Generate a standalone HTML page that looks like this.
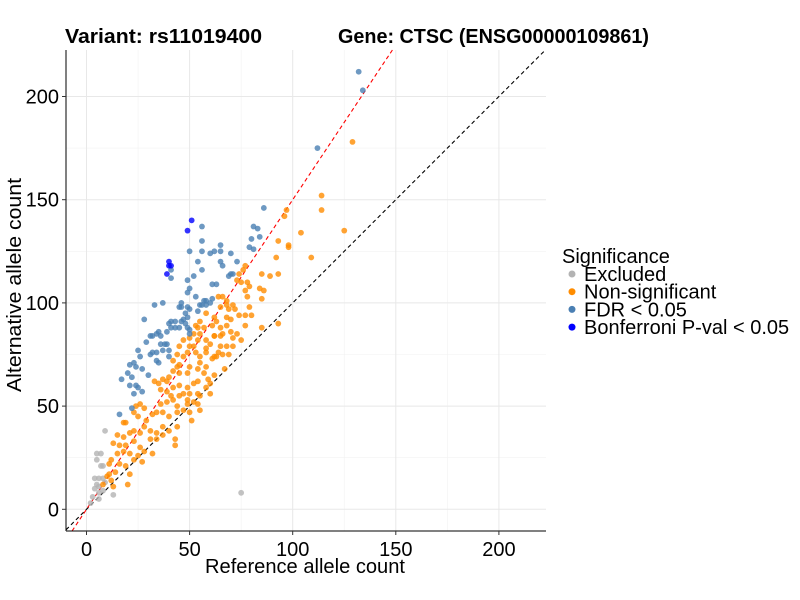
<!DOCTYPE html>
<html><head><meta charset="utf-8">
<style>
body{margin:0;background:#fff;}
svg{display:block;font-family:"Liberation Sans",Arial,sans-serif;}
</style></head>
<body>
<svg id="chart" width="800" height="600" viewBox="0 0 800 600">
<rect width="800" height="600" fill="#fff"/>
<g id="grid"></g>
<g id="lines"></g>
<g id="points"></g>
<g id="axes"></g>
<text x="65" y="43" font-size="20" font-weight="bold" textLength="197" lengthAdjust="spacingAndGlyphs">Variant: rs11019400</text>
<text x="338" y="43" font-size="20" font-weight="bold" textLength="311" lengthAdjust="spacingAndGlyphs">Gene: CTSC (ENSG00000109861)</text>
<text x="305" y="573" font-size="20" text-anchor="middle" textLength="200" lengthAdjust="spacingAndGlyphs">Reference allele count</text>
<text x="0" y="0" font-size="20" text-anchor="middle" textLength="214" lengthAdjust="spacingAndGlyphs" transform="translate(21,285) rotate(-90)">Alternative allele count</text>
<g id="legend">
<text x="562" y="263" font-size="20">Significance</text>
</g>
</svg>
<script>
const xTicks=[0,50,100,150,200];
const yTicks=[0,50,100,150,200];
const minorTicks=[25,75,125,175];
const groupNames=["Excluded","Non-significant","FDR < 0.05","Bonferroni P-val < 0.05"];
const groupColors=["#b3b3b3","#ff8c00","#4a7fb3","#0000ff"];
const excludedX=[9,5,7,5,8,7,4,6,8,5,6,9,8,6,6,13,75,3,4,2];
const excludedY=[38,27,27,24,21,21,15,15,15,12,11,13,9,8,5,7,8,6,10,3];
const nonsigX=[96,93,98,92,85,89,93,76,77,74,73,75,78,79,84,86,85,77,78,64,66,68,65,68,71,69,72,79,80,74,77,77,85,93,114,114,129,125,109,97,98,104,58,62,63,54,57,61,65,68,70,73,66,62,52,50,54,58,60,68,71,64,69,63,61,67,58,55,53,49,45,47,44,42,45,50,54,57,59,62,49,45,42,40,39,37,35,33,36,39,42,45,49,52,55,52,49,45,42,39,36,34,37,40,44,47,50,51,44,40,37,34,31,29,32,28,26,24,23,25,28,26,23,19,18,21,18,15,13,16,19,23,26,28,25,27,21,18,15,12,11,16,19,21,20,14,11,13,12,43,43,31,34,37,32,23,49,55,58,60,54,50,47,41,44,54,54,60,62,65,66,71,75,70,68,58,52,47,50,44,55,58,62,65,55,53,55,8,10];
const nonsigY=[142,130,127,122,114,113,114,116,118,114,111,110,110,108,107,106,102,106,103,103,103,101,98,99,99,97,97,98,94,94,94,89,88,90,152,145,178,135,122,145,128,134,95,93,91,88,88,89,88,89,86,85,85,84,85,83,82,82,80,79,79,76,75,74,73,68,69,74,76,76,79,74,75,72,70,69,68,66,63,65,66,66,67,64,62,63,61,62,58,57,59,60,59,61,55,52,53,55,53,52,51,47,47,45,47,48,47,43,40,38,40,37,38,43,46,49,51,50,47,45,40,37,38,42,42,37,35,36,32,31,31,33,30,28,26,23,27,28,27,24,22,22,21,17,12,18,17,11,14,34,31,34,34,36,27,24,51,48,59,56,56,56,56,55,50,51,62,61,74,79,75,83,82,92,93,76,79,82,79,69,71,78,84,84,85,89,91,12,16];
const fdrX=[86,81,83,80,84,79,81,56,56,65,50,56,60,62,65,70,54,65,66,73,56,41,41,52,49,70,71,69,61,63,50,49,53,46,45,46,49,37,33,57,58,60,61,56,55,58,54,48,50,49,47,48,49,50,50,28,41,43,40,46,45,43,41,39,35,34,31,36,36,38,39,40,37,40,32,29,25,26,31,32,34,34,35,21,23,24,27,20,22,17,30,21,24,25,27,23,22,16,112,132,134];
const fdrY=[146,137,136,131,132,127,126,137,130,128,125,125,124,125,125,124,120,120,118,120,116,116,112,113,111,114,114,113,109,109,107,105,103,100,98,98,98,100,99,101,101,100,102,99,99,99,96,95,97,93,92,90,88,87,85,92,91,91,90,91,88,88,88,86,86,85,84,84,80,80,80,77,77,74,84,81,77,74,75,76,76,72,71,70,71,69,68,66,64,63,65,60,60,59,57,56,49,46,175,212,203];
const bonfX=[51,49,40,40,41,39];
const bonfY=[140,135,120,118,118,114];
const redSlope=1.5;
const blackSlope=1;

const NS="http://www.w3.org/2000/svg";
const L=66,R=546,T=50,B=531;
const sx=v=>86.5+v*2.062;
const sy=v=>509.3-v*2.064;
const xMin=(L-86.5)/2.062,xMax=(R-86.5)/2.062;
function mk(tag,attrs,parent){const e=document.createElementNS(NS,tag);for(const k in attrs)e.setAttribute(k,attrs[k]);parent.appendChild(e);return e;}
const grid=document.getElementById('grid');
minorTicks.forEach(v=>{
  let a=mk('line',{x1:sx(v),x2:sx(v),y1:T,y2:B,stroke:'#f2f2f2','stroke-width':0.6},grid);
  
  
  let b=mk('line',{x1:L,x2:R,y1:sy(v),y2:sy(v),stroke:'#f2f2f2','stroke-width':0.6},grid);
  
  
});
xTicks.forEach(v=>{
  let a=mk('line',{x1:sx(v),x2:sx(v),y1:T,y2:B,stroke:'#e8e8e8','stroke-width':1},grid);
  
  
});
yTicks.forEach(v=>{
  let a=mk('line',{x1:L,x2:R,y1:sy(v),y2:sy(v),stroke:'#e8e8e8','stroke-width':1},grid);
  
  
});
const lines=document.getElementById('lines');
function refLine(slope,color,name){
  let x1=Math.min(xMax,((509.3-T)/2.064)/slope);
  let yb=(509.3-B)/2.064; let x0=Math.max(xMin,yb/slope);
  let l=mk('line',{x1:sx(x0),y1:sy(x0*slope),x2:sx(x1),y2:sy(x1*slope),stroke:color,'stroke-width':1.1,'stroke-dasharray':'4,3'},lines);
  
  
}
const pts=document.getElementById('points');
function drawGroup(xs,ys,color,name){
  xs.forEach((x,i)=>{
    let c=mk('circle',{cx:sx(x),cy:sy(ys[i]),r:2.9,fill:color,'fill-opacity':0.8},pts);
    
    
  });
}
drawGroup(excludedX,excludedY,groupColors[0],'point-excluded');
drawGroup(nonsigX,nonsigY,groupColors[1],'point-non-significant');
drawGroup(fdrX,fdrY,groupColors[2],'point-fdr');
drawGroup(bonfX,bonfY,groupColors[3],'point-bonferroni');
refLine(blackSlope,'#000','identity-line');
refLine(redSlope,'#ff0000','expected-ratio-line');
const axes=document.getElementById('axes');
let ya=mk('line',{x1:L,x2:L,y1:T,y2:B,stroke:'#000','stroke-width':1},axes);


let xa=mk('line',{x1:L,x2:R,y1:B,y2:B,stroke:'#000','stroke-width':1},axes);


xTicks.forEach(v=>{
  mk('line',{x1:sx(v),x2:sx(v),y1:B,y2:B+4,stroke:'#333'},axes);
  let t=mk('text',{x:sx(v),y:B+25,'font-size':20,'text-anchor':'middle',fill:'#000'},axes);
  t.textContent=v;
  
  
});
yTicks.forEach(v=>{
  mk('line',{x1:L-4,x2:L,y1:sy(v),y2:sy(v),stroke:'#333'},axes);
  let t=mk('text',{x:L-7,y:sy(v)+7,'font-size':20,'text-anchor':'end',fill:'#000'},axes);
  t.textContent=v;
  
  
});
const lg=document.getElementById('legend');
groupNames.forEach((n,i)=>{
  let y=274+i*17.7;
  let g=mk('g',{},lg);
  
  
  mk('circle',{cx:572,cy:y,r:3.5,fill:groupColors[i]},g);
  let t=mk('text',{x:584,y:y+7,'font-size':20,fill:'#000'},g);
  t.textContent=n;
});
</script>
</body></html>
